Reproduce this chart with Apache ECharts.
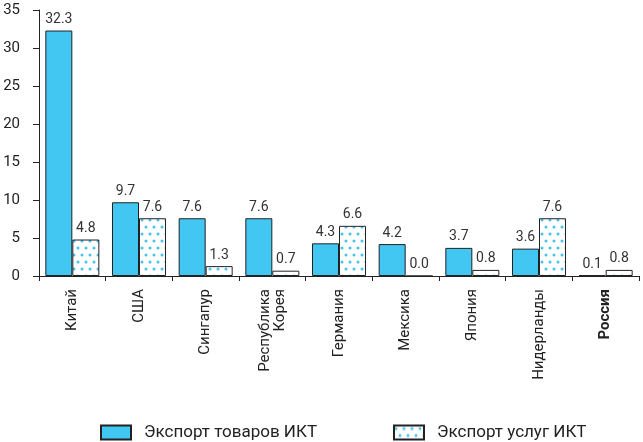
<!DOCTYPE html>
<html>
<head>
<meta charset="utf-8">
<script src="https://cdn.jsdelivr.net/npm/echarts@6/dist/echarts.min.js"></script>
<style>
html,body{margin:0;padding:0;background:#fff;}
#chart{width:643px;height:442px;}
</style>
</head>
<body>
<div id="chart"></div>
<script>
const categories = ['Китай', 'США', 'Сингапур', 'Республика\nКорея', 'Германия', 'Мексика', 'Япония', 'Нидерланды', 'Россия'];
const goodsExport = [32.3, 9.7, 7.6, 7.6, 4.3, 4.2, 3.7, 3.6, 0.1];
const servicesExport = [4.8, 7.6, 1.3, 0.7, 6.6, 0.0, 0.8, 7.6, 0.8];
const yTicks = [0, 5, 10, 15, 20, 25, 30, 35];
const seriesNames = ['Экспорт товаров ИКТ', 'Экспорт услуг ИКТ'];

const FONT = "Roboto, 'Liberation Sans', sans-serif";

// dotted fill for the services series
function dotPattern() {
  const c = document.createElement('canvas');
  c.width = 8; c.height = 14;
  const ctx = c.getContext('2d');
  ctx.fillStyle = '#ffffff';
  ctx.fillRect(0, 0, 8, 14);
  ctx.fillStyle = '#45c2ee';
  [[2, 3], [6, 10]].forEach(([x, y]) => {
    ctx.beginPath();
    ctx.arc(x, y, 1.5, 0, Math.PI * 2);
    ctx.fill();
  });
  return c;
}

const chart = echarts.init(document.getElementById('chart'), null, { renderer: 'canvas' });

const labelCfg = {
  show: true,
  position: 'top',
  distance: 4,
  color: '#333',
  fontFamily: FONT,
  fontSize: 14,
  formatter: p => p.value.toFixed(1)
};

const legendBase = {
  top: 419,
  icon: 'rect',
  itemWidth: 30,
  itemHeight: 14,
  textStyle: { fontFamily: FONT, fontSize: 17, color: '#222', padding: [0, 0, 0, 8] }
};

chart.setOption({
  animation: false,
  textStyle: { fontFamily: FONT },
  grid: { left: 39, right: 4, top: 10, bottom: 166, containLabel: false },
  legend: [
    Object.assign({}, legendBase, { left: 95, data: [seriesNames[0]] }),
    Object.assign({}, legendBase, { left: 388, data: [seriesNames[1]] })
  ],
  xAxis: {
    type: 'category',
    data: categories,
    axisLine: { lineStyle: { color: '#222', width: 1 } },
    axisTick: { show: true, alignWithLabel: false, length: 5, lineStyle: { color: '#222' } },
    axisLabel: {
      rotate: 90,
      interval: 0,
      margin: 13,
      color: '#222',
      fontFamily: FONT,
      fontSize: 15,
      lineHeight: 15,
      align: 'right',
      formatter: v => v === 'Россия' ? '{b|' + v + '}' : v,
      rich: { b: { fontWeight: 'bold', fontFamily: FONT, fontSize: 15, color: '#222' } }
    }
  },
  yAxis: {
    type: 'value',
    min: 0,
    max: 35,
    interval: 5,
    splitLine: { show: false },
    axisLine: { show: true, lineStyle: { color: '#222' } },
    axisTick: { show: true, length: 6, lineStyle: { color: '#222' } },
    axisLabel: {
      color: '#222',
      fontFamily: FONT,
      fontSize: 15,
      margin: 19,
      customValues: yTicks
    }
  },
  series: [
    {
      name: seriesNames[0],
      type: 'bar',
      data: goodsExport,
      barWidth: 27,
      barGap: '0%',
      itemStyle: { color: '#41c7f2', borderColor: '#222', borderWidth: 1 },
      label: labelCfg
    },
    {
      name: seriesNames[1],
      type: 'bar',
      data: servicesExport,
      barWidth: 27,
      barGap: '0%',
      itemStyle: { color: { image: dotPattern(), repeat: 'repeat' }, borderColor: '#222', borderWidth: 1 },
      label: labelCfg
    }
  ]
});
</script>
</body>
</html>
